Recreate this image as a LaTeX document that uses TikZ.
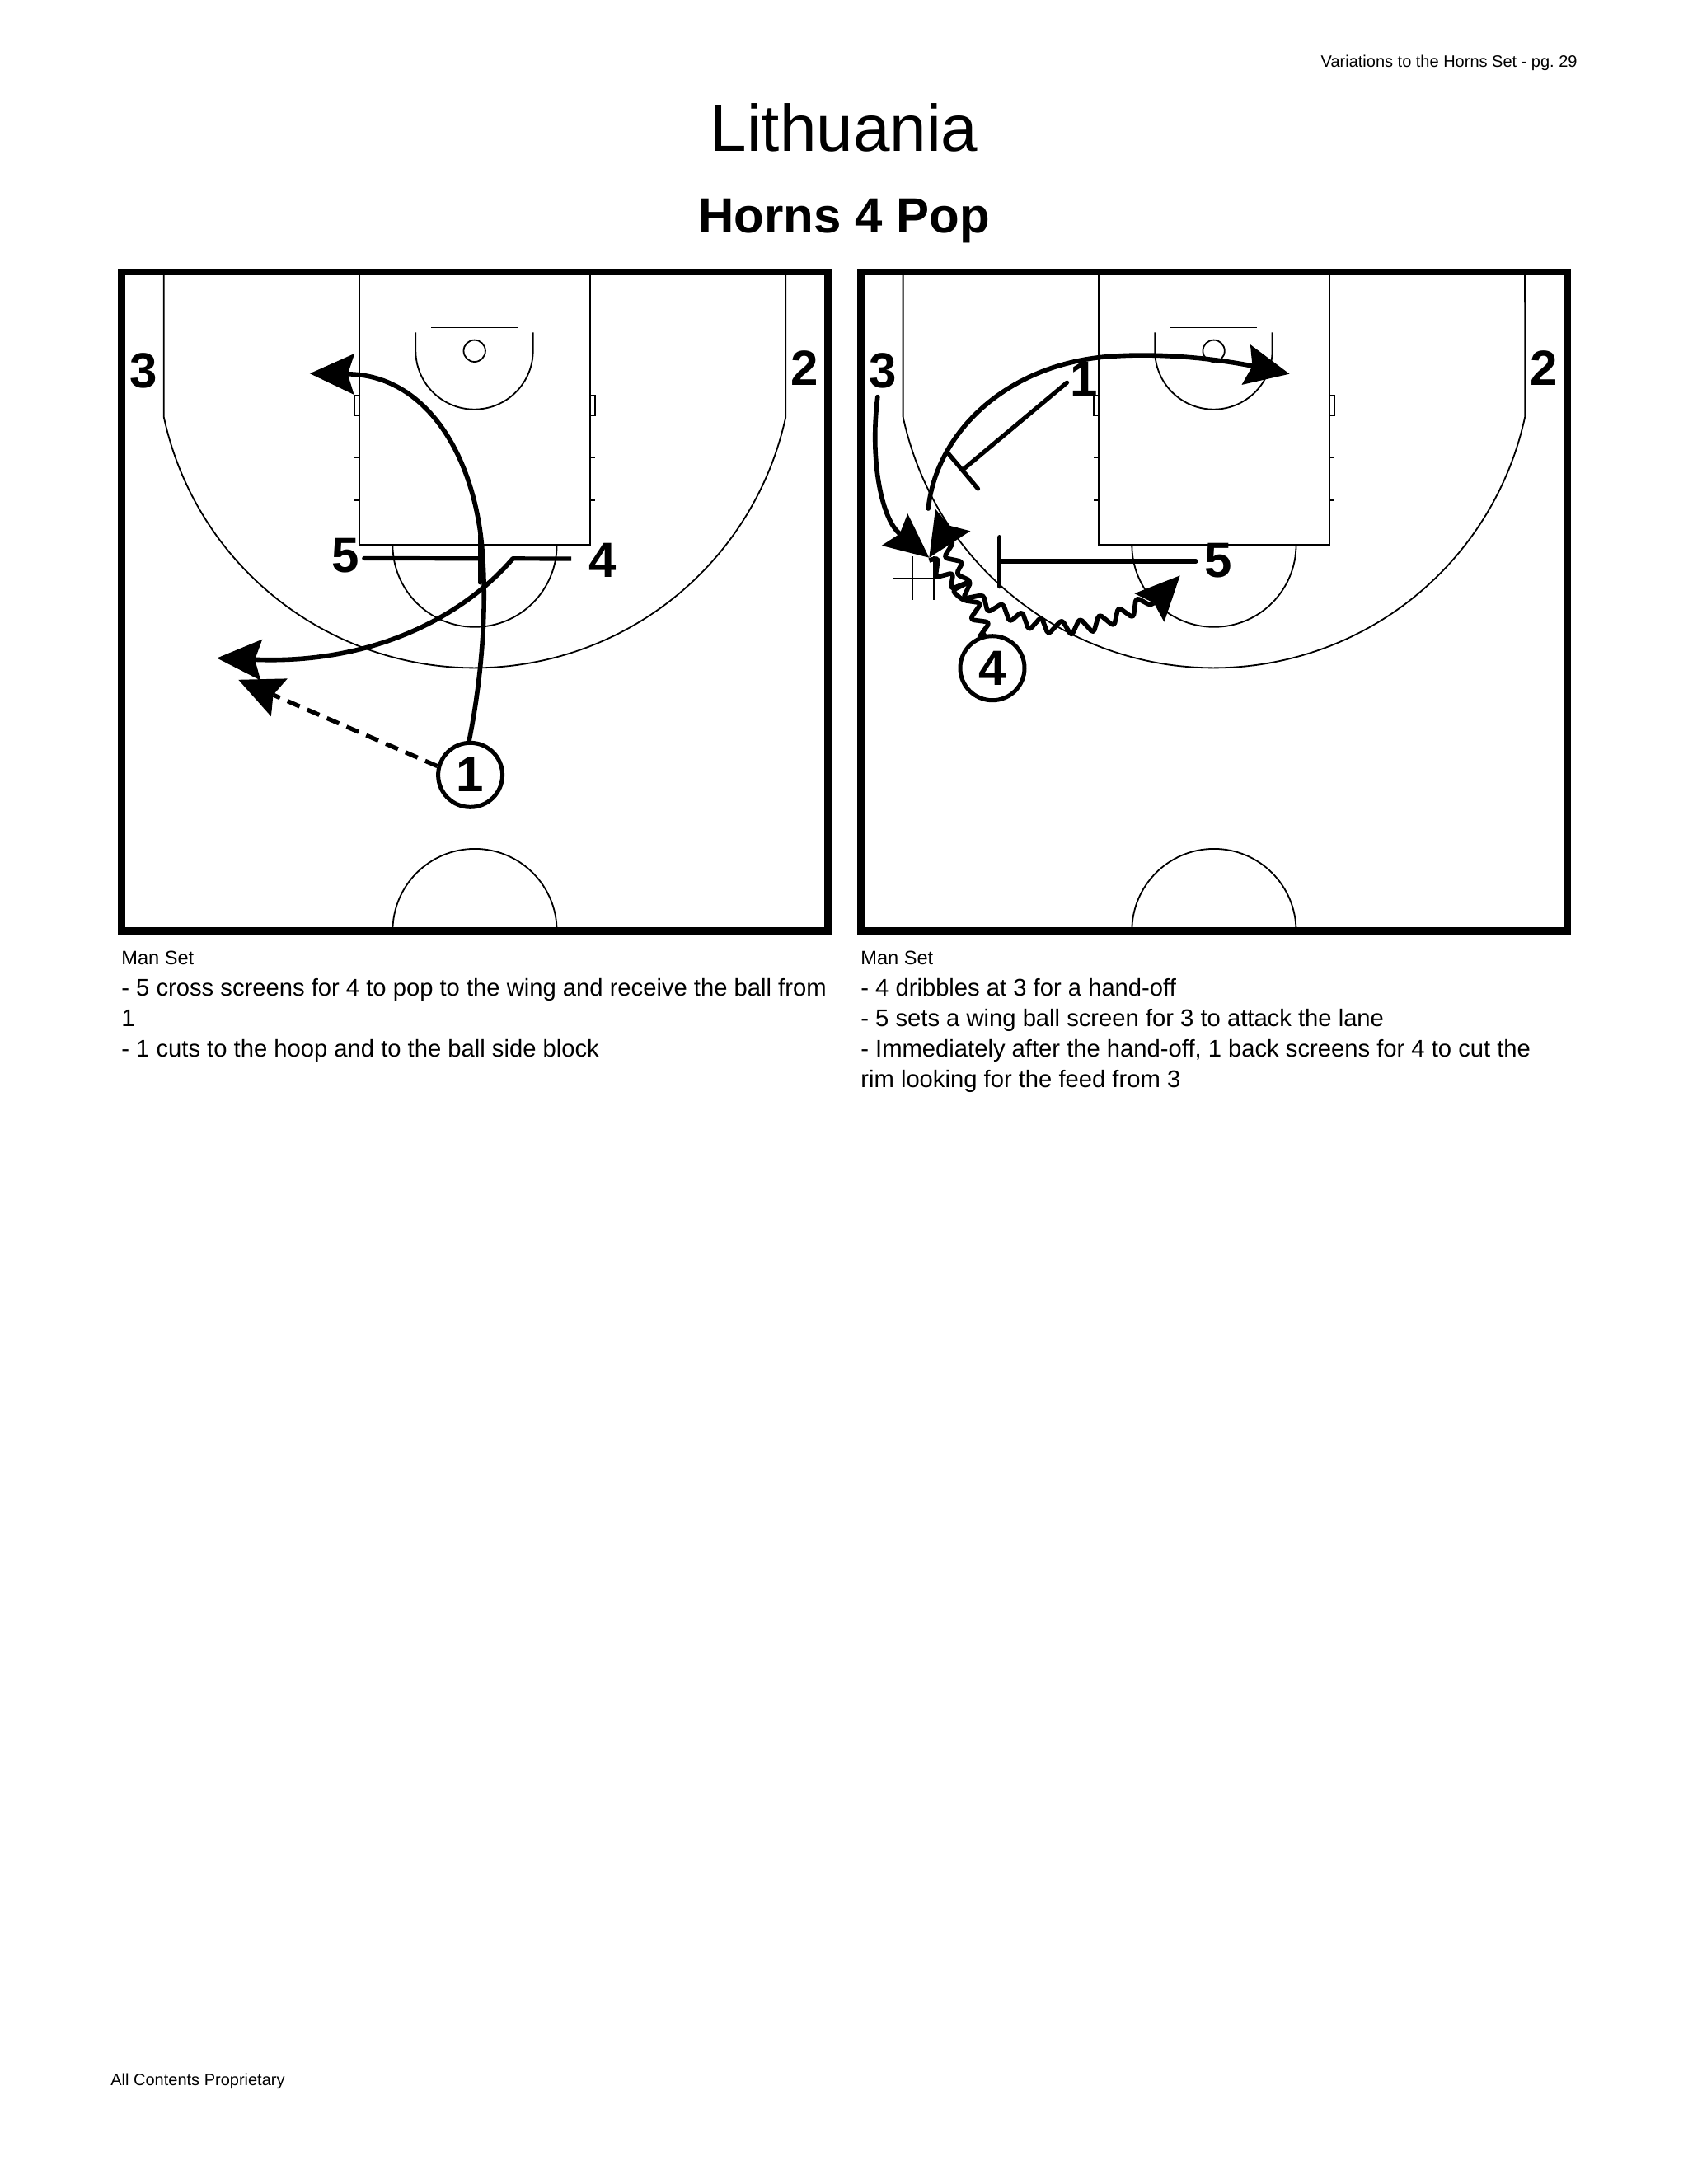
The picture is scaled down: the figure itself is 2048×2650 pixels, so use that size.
\documentclass[tikz,border=0pt]{standalone}
\usepackage{fontspec}
\setmainfont{Liberation Sans}
\usetikzlibrary{arrows.meta}
\tikzset{
  x=0.5pt,y=-0.5pt,
  thinline/.style={line width=0.9pt,black},
  frameline/.style={line width=4.4pt,black,line join=miter},
  num/.style={font=\fontsize{30}{30}\bfseries\selectfont,inner sep=0pt},
  player/.style={circle,draw,line width=2.5pt,minimum size=39pt,inner sep=0pt,font=\fontsize{30}{30}\bfseries\selectfont,fill=white},
  headtip/.style={-{Stealth[length=27pt,width=25pt,inset=4pt,line width=0pt]}},
  cut/.style={line width=2.8pt,line cap=round,headtip},
  pass/.style={line width=2.6pt,dash pattern=on 8pt off 5pt,headtip},
  scr/.style={line width=2.6pt,line cap=round},
  drib/.style={line width=2.8pt,rounded corners=2.2pt,line join=round,headtip},
  txt/.style={anchor=base west,inner sep=0pt,font=\fontsize{14.6}{14.6}\selectfont},
  smalltxt/.style={anchor=base west,inner sep=0pt,font=\fontsize{11.8}{11.8}\selectfont}
}
\newcommand{\courtbase}{%
  \draw[frameline] (147.2,329.9) rectangle (1004.8,1129.5);
  \draw[thinline] (436.2,329.9) -- (436.2,661.2) -- (715.9,661.2) -- (715.9,329.9);
  \draw[thinline] (198.7,329.9) -- (198.7,505.7) arc[start angle=167.83,end angle=12.17,radius=386] -- (953.2,329.9);
  \draw[thinline] (476.4,661.2) arc[start angle=180,end angle=0,radius=99.6];
  \draw[thinline] (476.4,1129.5) arc[start angle=180,end angle=360,radius=99.6];
  \draw[thinline] (523.2,397.4) -- (627.7,397.4);
  \draw[thinline] (504.3,403.3) -- (504.3,425.5) arc[start angle=180,end angle=0,radius=71.2] -- (646.7,403.3);
  \draw[thinline] (575.7,425.8) circle[radius=13.2];
  \foreach \yy in {429.5,555,606.7}{
    \draw[thinline] (430.1,\yy) -- (436.2,\yy);
    \draw[thinline] (715.9,\yy) -- (722.3,\yy);
  }
  \draw[thinline] (430,480.3) rectangle (436.2,504.2);
  \draw[thinline] (715.9,480.3) rectangle (722.3,504.2);
  \node[num] at (174.2,449.4) {3};
  \node[num] at (976,446.4) {2};
}
\begin{document}
\begin{tikzpicture}
\frenchspacing
\useasboundingbox[fill=white] (0,0) rectangle (2048,2650);
\node[anchor=base east,inner sep=0pt,font=\fontsize{10}{10}\selectfont] (hdr) at (1914,81) {Variations to the Horns Set - pg. 29};
\node[inner sep=0pt,font=\fontsize{40}{40}\selectfont,anchor=base] (title) at (1024,183) {Lithuania};
\node[inner sep=0pt,font=\fontsize{30}{30}\bfseries\selectfont,anchor=base] (sub) at (1024,282.5) {Horns 4 Pop};
\node[anchor=base west,inner sep=0pt,font=\fontsize{10}{10}\selectfont] (ftr) at (134,2530.5) {All Contents Proprietary};
% left court
\courtbase
\node[num] (n5) at (418.7,674.4) {5};
\node[num] (n4) at (731.2,680) {4};
\node[player] (p1) at (570.6,940.3) {1};
\coordinate (a1) at (375.9,453.2);
\coordinate (k1) at (583.7,653);
\coordinate (a4) at (263.3,798.5);
\coordinate (a5) at (289.3,824.8);
\coordinate (s5) at (583.9,677.8);
\coordinate (k4) at (622.2,677.8);
\coordinate (t5a) at (582.6,649.5);
\coordinate (t5b) at (582.6,706.8);
\draw[scr] (n5.east)++(6,3) -- (s5);
\draw[scr] (t5a) -- (t5b);
\draw[scr,line cap=butt] (n4.west)++(-21,-2) -- (k4);
\draw[cut] (k4) .. controls (560,750) and (450,806) .. (a4);
\draw[cut] (p1.92) .. controls (585,820) and (592,730) .. (k1) .. controls (570,540) and (510,455) .. (a1);
\draw[pass] (p1.165) -- (a5);
% right court
\begin{scope}[shift={(896.9,0)}]
\courtbase
\end{scope}
\node[num] (m1) at (1315.6,460.2) {1};
\node[num] (m5) at (1477.9,680) {5};
\node[player] (p4) at (1204,810.7) {4};
\coordinate (q3) at (1064.8,481.6);
\coordinate (b3) at (1127.3,676.7);
\coordinate (b1) at (1564.5,453.7);
\coordinate (c1) at (1126.3,617);
\coordinate (k2) at (1340,433);
\draw[thinline,line width=1.2pt] (1084,701.7) -- (1140,701.7) (1106.7,675) -- (1106.7,728.3) (1132.7,675) -- (1132.7,728.3);
\draw[cut] (q3) .. controls (1055,560) and (1070,630) .. (b3);
\draw[cut] (c1) .. controls (1135,530) and (1215,445) .. (k2) .. controls (1420,426) and (1500,440) .. (b1);
\coordinate (t1) at (1168.2,569.9);
\coordinate (t1a) at (1149.2,548.6);
\coordinate (t1b) at (1186.5,593);
\coordinate (t2) at (1212.7,681);
\coordinate (t2a) at (1212.7,651.7);
\coordinate (t2b) at (1212.7,711.7);
\draw[scr] (m1.west)++(-4,4) -- (t1);
\draw[scr] (t1a) -- (t1b);
\draw[scr] (m5.west)++(-10,1) -- (t2);
\draw[scr] (t2a) -- (t2b);
\begin{scope}[shift={(1040,580)},x=0.16667pt,y=-0.16667pt]
\draw[drib] (p4.100) -- (440,585) -- (483,525) -- (410,515) -- (452,455) -- (385,445) -- (345,410) -- (415,375) -- (360,350) -- (385,305) -- (315,290) -- (350,235) -- (325,190) -- (262,290);
\draw[drib] (262,300) -- (295,290) -- (285,362) -- (350,345) -- (340,405) -- (415,375) -- (385,440) -- (460,425) -- (475,490) -- (530,455) -- (555,525) -- (600,485) -- (625,555) -- (670,505) -- (695,570) -- (745,515) -- (780,575) -- (810,510) -- (860,565) -- (880,495) -- (935,540) -- (950,470) -- (1005,510) -- (1015,435) -- (1070,465) -- (1175,355);
\end{scope}
% text
\node[smalltxt] (l0) at (147,1170) {Man Set};
\node[txt] (l1) at (147,1208) {- 5 cross screens for 4 to pop to the wing and receive the ball from};
\node[txt] (l2) at (147,1245) {1};
\node[txt] (l3) at (147,1282) {- 1 cuts to the hoop and to the ball side block};
\node[smalltxt] (r0) at (1044,1170) {Man Set};
\node[txt] (r1) at (1044,1208) {- 4 dribbles at 3 for a hand-off};
\node[txt] (r2) at (1044,1245) {- 5 sets a wing ball screen for 3 to attack the lane};
\node[txt] (r3) at (1044,1282) {- Immediately after the hand-off, 1 back screens for 4 to cut the};
\node[txt] (r4) at (1044,1319) {rim looking for the feed from 3};
\end{tikzpicture}
\end{document}
